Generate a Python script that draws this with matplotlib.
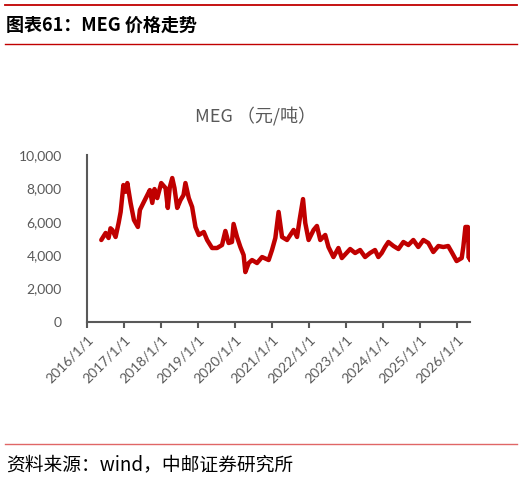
import matplotlib
matplotlib.use("Agg")
import matplotlib.pyplot as plt
import pandas as pd
from matplotlib.lines import Line2D

plt.rcParams['font.family'] = ['Noto Sans CJK SC', 'DejaVu Sans']

# MEG price, yuan/ton
dates = [
    "2016-05-21", "2016-07-03", "2016-08-01", "2016-08-20", "2016-09-07", "2016-10-09",
    "2016-11-08", "2016-11-28", "2016-12-25", "2017-01-15", "2017-02-02", "2017-03-06",
    "2017-04-08", "2017-05-17", "2017-06-06", "2017-07-15", "2017-08-18", "2017-09-12",
    "2017-10-06", "2017-10-28", "2017-11-24", "2018-01-02", "2018-02-14", "2018-03-08",
    "2018-03-28", "2018-04-21", "2018-05-13", "2018-06-09", "2018-07-11", "2018-08-10",
    "2018-08-29", "2018-10-01", "2018-11-03", "2018-12-06", "2019-01-08", "2019-02-26",
    "2019-03-31", "2019-05-19", "2019-07-07", "2019-08-25", "2019-09-27", "2019-10-29",
    "2019-12-01", "2019-12-17", "2020-01-20", "2020-02-22", "2020-03-25", "2020-04-11",
    "2020-05-14", "2020-06-16", "2020-08-04", "2020-09-23", "2020-11-27", "2020-12-30",
    "2021-02-01", "2021-03-05", "2021-04-08", "2021-05-27", "2021-07-31", "2021-09-03",
    "2021-09-28", "2021-11-01", "2021-11-23", "2021-12-26", "2022-02-13", "2022-03-18",
    "2022-04-20", "2022-06-08", "2022-07-10", "2022-08-28", "2022-10-16", "2022-11-19",
    "2023-02-09", "2023-03-30", "2023-05-18", "2023-07-06", "2023-08-24", "2023-10-12",
    "2023-11-14", "2023-12-17", "2024-01-19", "2024-02-21", "2024-04-11", "2024-05-30",
    "2024-07-18", "2024-09-05", "2024-10-24", "2024-12-12", "2025-01-31", "2025-03-21",
    "2025-05-09", "2025-06-28", "2025-08-16", "2025-10-03", "2025-11-06", "2025-12-25",
    "2026-02-13", "2026-03-01", "2026-03-22", "2026-04-15", "2026-04-25", "2026-05-02",
    "2026-05-08",
]
prices = [
    4910, 5330, 5030, 5610, 5510, 5090,
    5930, 6590, 8200, 7800, 8320, 7130,
    6110, 5690, 6710, 7190, 7600, 7900,
    7130, 7960, 7420, 8320, 8020, 6830,
    8080, 8620, 8020, 6830, 7300, 7600,
    8320, 7420, 6890, 5690, 5210, 5390,
    4910, 4430, 4430, 4610, 5450, 4730,
    4790, 5870, 5090, 4490, 4010, 2990,
    3530, 3710, 3530, 3890, 3710, 4310,
    5030, 6590, 5090, 4910, 5510, 5090,
    6110, 7360, 5930, 4910, 5510, 5750,
    4910, 5210, 4490, 3890, 4430, 3830,
    4370, 4130, 4310, 3890, 4130, 4310,
    3890, 4130, 4490, 4790, 4550, 4370,
    4790, 4610, 4910, 4490, 4910, 4730,
    4190, 4550, 4490, 4550, 4190, 3650,
    3830, 4490, 5690, 5690, 3830, 5330,
    3700,
]
tick_years = list(range(2016, 2027))
y_ticks = [0, 2000, 4000, 6000, 8000, 10000]

gray = "#595959"
red = "#C00000"

fig = plt.figure(figsize=(5.25, 4.79), dpi=100)
ax = fig.add_axes([0.1657, 0.3278, 0.7303, 0.3486])

x = pd.to_datetime(dates)
ax.plot(x, prices, color=red, linewidth=3.2, solid_joinstyle="round", solid_capstyle="round")

ax.set_ylim(0, 10000)
ax.set_xlim(pd.Timestamp("2016-01-01"), pd.Timestamp("2026-05-10"))
ax.set_yticks(y_ticks)
ax.set_yticklabels([f"{v:,}" for v in y_ticks], family="Lato", fontsize=10, color=gray)
xt = [pd.Timestamp(f"{y}-01-01") for y in tick_years]
ax.set_xticks(xt)
ax.set_xticklabels([f"{y}/1/1" for y in tick_years], family="Lato", fontsize=10,
                   color=gray, rotation=45, ha="right", rotation_mode="anchor")

for s in ["top", "right"]:
    ax.spines[s].set_visible(False)
for s in ["left", "bottom"]:
    ax.spines[s].set_color(gray)
    ax.spines[s].set_linewidth(1.5)
ax.tick_params(axis="y", length=0, pad=18)
ax.tick_params(axis="x", length=4, width=1.5, color=gray, pad=4)

fig.text(0.486, 0.757, "MEG （元/吨）", ha="center", va="center", fontsize=13, color=gray)

# header and footer
fig.add_artist(Line2D([5 / 525, 517 / 525], [1 - 5 / 479, 1 - 5 / 479], color=red, linewidth=1.3))
fig.add_artist(Line2D([5 / 525, 517 / 525], [1 - 44 / 479, 1 - 44 / 479], color=red, linewidth=1.0))
fig.text(6 / 525, 1 - 25 / 479, "图表61：MEG 价格走势", ha="left", va="center",
         fontsize=13, fontweight="bold", color="black")
fig.add_artist(Line2D([5 / 525, 517 / 525], [1 - 444 / 479, 1 - 444 / 479], color="#E06666", linewidth=1.0))
fig.text(6 / 525, 1 - 465 / 479, "资料来源：wind，中邮证券研究所", ha="left", va="center",
         fontsize=13.5, color="black")

fig.savefig("out.png", dpi=100)
